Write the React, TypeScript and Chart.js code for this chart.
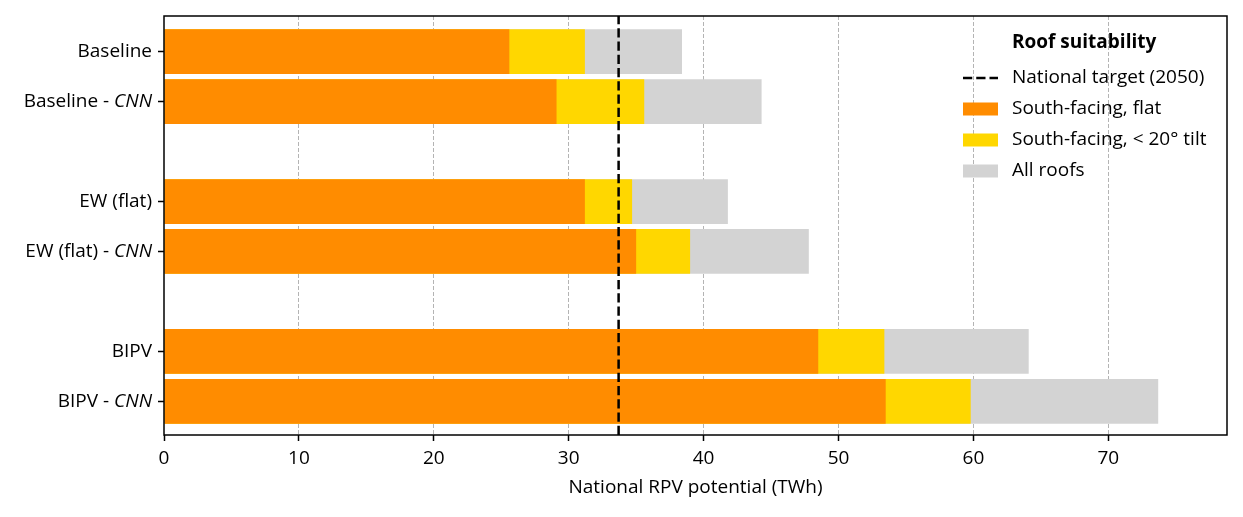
import React, { useEffect, useRef } from "react";
import { Chart, registerables } from "chart.js";

Chart.register(...registerables);

// ---- data ----
const categories = ["Baseline", "Baseline - CNN", "EW (flat)", "EW (flat) - CNN", "BIPV", "BIPV - CNN"];
const categoryItalic = ["", "CNN", "", "CNN", "", "CNN"];
const categoryPositions = [0, 1, 3, 4, 6, 7];
// cumulative values (TWh)
const southFlat = [25.6, 29.1, 31.2, 35.0, 48.5, 53.5];
const southTilt = [31.2, 35.6, 34.7, 39.0, 53.4, 59.8];
const allRoofs = [38.4, 44.3, 41.8, 47.8, 64.1, 73.7];
const nationalTarget = 33.7;
const xTicks = [0, 10, 20, 30, 40, 50, 60, 70];
const seriesLabels = ["South-facing, flat", "South-facing, < 20° tilt", "All roofs"];
const targetLabel = "National target (2050)";
const legendTitle = "Roof suitability";
const xTitle = "National RPV potential (TWh)";

const COLORS = ["#FF8C00", "#FFD700", "#D3D3D3"];
const FONT = "'Open Sans', 'DejaVu Sans', sans-serif";
const FS = 19;

const toPoints = (vals: number[]) => vals.map((v, i) => ({ x: v, y: categoryPositions[i] }));

const DASH = [9.25, 4];

const customPlugin = {
  id: "custom",
  afterDatasetsDraw(chart: any) {
    const { ctx, chartArea, scales } = chart;
    const { left, right, top, bottom } = chartArea;
    ctx.save();
    // target line
    const tx = scales.x.getPixelForValue(nationalTarget);
    ctx.strokeStyle = "#000";
    ctx.lineWidth = 2.5;
    ctx.setLineDash(DASH);
    ctx.beginPath();
    ctx.moveTo(tx, bottom);
    ctx.lineTo(tx, top);
    ctx.stroke();
    ctx.setLineDash([]);
    // frame
    ctx.lineWidth = 1.5;
    ctx.strokeStyle = "#000";
    ctx.strokeRect(left, top, right - left, bottom - top);

    // y labels (with italic part)
    ctx.fillStyle = "#000";
    ctx.textBaseline = "middle";
    categories.forEach((lab, i) => {
      const y = scales.y.getPixelForValue(categoryPositions[i]);
      const it = categoryItalic[i];
      const xr = left - 12;
      if (it && lab.endsWith(it)) {
        const normal = lab.slice(0, lab.length - it.length);
        ctx.font = `italic ${FS}px ${FONT}`;
        const wi = ctx.measureText(it).width;
        ctx.textAlign = "right";
        ctx.fillText(it, xr, y);
        ctx.font = `${FS}px ${FONT}`;
        ctx.fillText(normal, xr - wi, y);
      } else {
        ctx.font = `${FS}px ${FONT}`;
        ctx.textAlign = "right";
        ctx.fillText(lab, xr, y);
      }
    });

    // legend
    const hx = right - 264;
    const txt = right - 215;
    ctx.textAlign = "left";
    ctx.font = `bold ${FS}px ${FONT}`;
    ctx.fillText(legendTitle, txt, top + 27);
    const rows = [top + 62, top + 93, top + 124, top + 155];
    ctx.font = `${FS}px ${FONT}`;
    // dashed handle
    ctx.lineWidth = 2.5;
    ctx.setLineDash(DASH);
    ctx.beginPath();
    ctx.moveTo(hx, rows[0]);
    ctx.lineTo(hx + 35, rows[0]);
    ctx.stroke();
    ctx.setLineDash([]);
    ctx.fillText(targetLabel, txt, rows[0]);
    seriesLabels.forEach((lab, i) => {
      const ry = rows[i + 1];
      ctx.fillStyle = COLORS[i];
      ctx.fillRect(hx, ry - 6.5, 35, 13);
      ctx.fillStyle = "#000";
      ctx.fillText(lab, txt, ry);
    });
    ctx.restore();
  },
};

export default function App() {
  const ref = useRef<HTMLCanvasElement | null>(null);
  useEffect(() => {
    if (!ref.current) return;
    const chart = new Chart(ref.current, {
      type: "bar",
      data: {
        datasets: seriesLabels.map((lab, i) => ({
          label: lab,
          data: toPoints([southFlat, southTilt, allRoofs][i]),
          backgroundColor: COLORS[i],
          borderWidth: 0,
          grouped: false,
          categoryPercentage: 1,
          barPercentage: 0.895,
        })),
      },
      options: {
        indexAxis: "y",
        animation: false,
        responsive: true,
        maintainAspectRatio: false,
        layout: { padding: { left: 0, top: 16, right: 16, bottom: 0 } },
        plugins: { legend: { display: false }, tooltip: { enabled: false } },
        scales: {
          x: {
            type: "linear",
            min: 0,
            max: 78.8,
            afterBuildTicks: (s: any) => {
              s.ticks = xTicks.map((v) => ({ value: v }));
            },
            afterFit: (s: any) => {
              s.height = 82;
            },
            ticks: {
              color: "#000",
              padding: 6,
              font: { family: FONT, size: FS },
            },
            grid: {
              color: (c: any) => (c.tick && c.tick.value === 0 ? "rgba(0,0,0,0)" : "#b4b4b4"),
              lineWidth: 1,
              drawTicks: true,
              tickLength: 6,
              tickColor: "#000",
              tickWidth: 1.5,
              tickBorderDash: [],
            },
            border: { display: false, dash: [4, 2] },
            title: {
              display: true,
              text: xTitle,
              color: "#000",
              font: { family: FONT, size: FS },
              padding: { top: 0, bottom: 18 },
            },
          },
          y: {
            type: "linear",
            reverse: true,
            offset: false,
            min: -0.715,
            max: 7.675,
            afterBuildTicks: (s: any) => {
              s.ticks = categoryPositions.map((v) => ({ value: v }));
            },
            afterFit: (s: any) => {
              s.width = 164;
            },
            ticks: { display: false },
            grid: {
              offset: false,
              drawOnChartArea: false,
              drawTicks: true,
              tickLength: 6,
              tickColor: "#000",
              tickWidth: 1.5,
            },
            border: { display: false },
          },
        },
      },
      plugins: [customPlugin],
    } as any);
    const fs: any = (document as any).fonts;
    if (fs && fs.load) {
      Promise.all([
        fs.load(`${FS}px 'Open Sans'`),
        fs.load(`italic ${FS}px 'Open Sans'`),
        fs.load(`bold ${FS}px 'Open Sans'`),
      ]).then(() => chart.update()).catch(() => {});
    }
    return () => chart.destroy();
  }, []);
  return (
    <div style={{ position: "absolute", left: 0, top: 0, width: 1243, height: 517, background: "#fff" }}>
      <canvas ref={ref} />
    </div>
  );
}
